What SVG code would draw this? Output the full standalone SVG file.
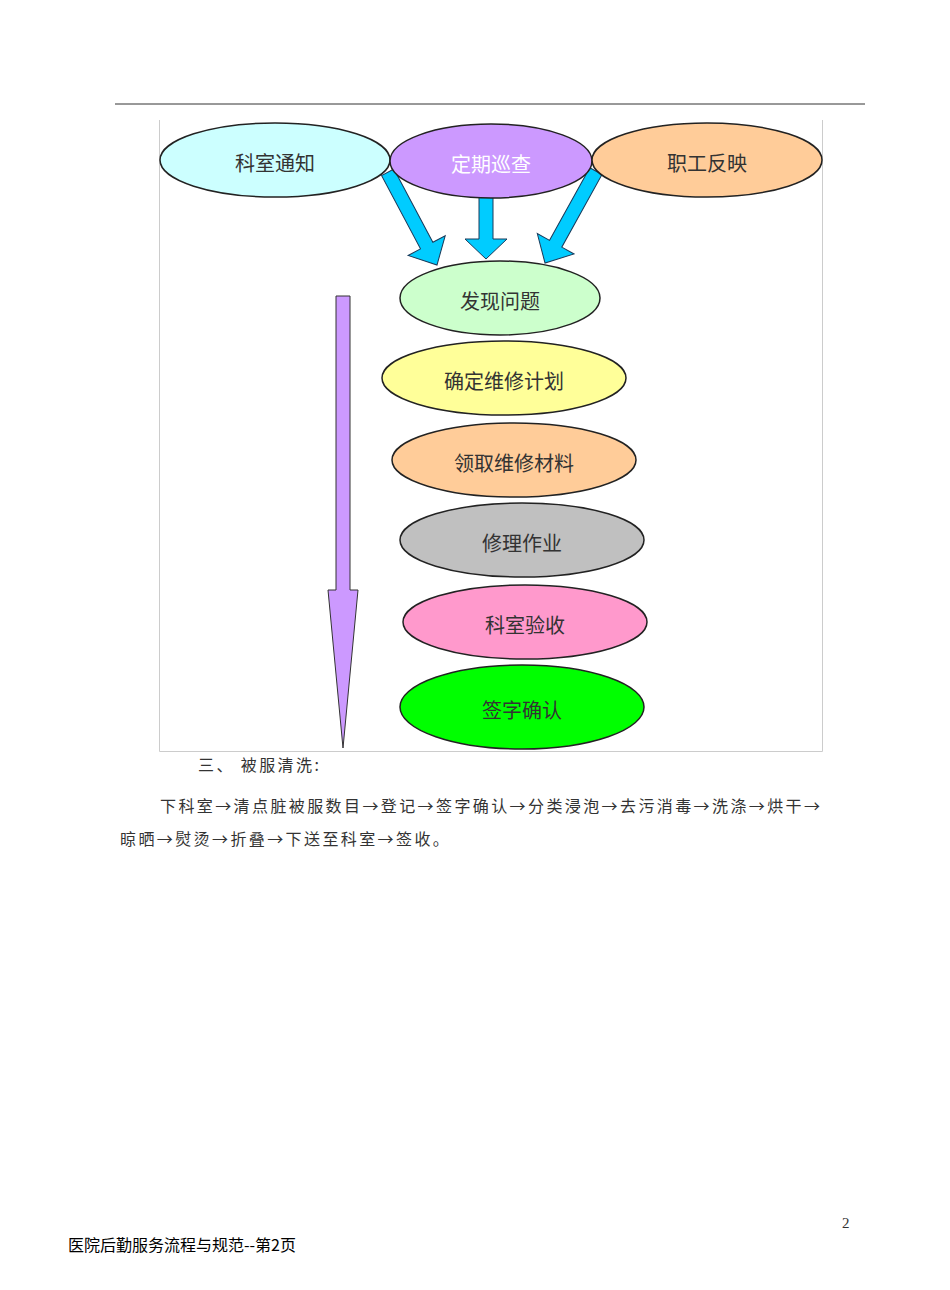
<svg xmlns="http://www.w3.org/2000/svg" width="950" height="1290" viewBox="0 0 950 1290">
<style>
.n{stroke:#222;stroke-width:1.5}
.t{font-family:"Noto Sans CJK SC",sans-serif;font-size:20px;fill:#333;text-anchor:middle;dominant-baseline:central}
.a{fill:#00ccff;stroke:#1a3a5a;stroke-width:1}
.b{font-family:"Noto Sans CJK SC",sans-serif;font-size:16px;fill:#333;letter-spacing:2.4px}
</style>
<rect width="950" height="1290" fill="#fff"/>
<line x1="115" y1="104" x2="865" y2="104" stroke="#333" stroke-width="1"/>
<path d="M159.5 120V751.5H822.5V120" fill="none" stroke="#ccc"/>
<g id="connectors">
<path class="a" transform="translate(437,265) rotate(-28)" d="M-7,-105L7,-105L7,-22L21,-22L0,0L-21,-22L-7,-22Z"/>
<path class="a" transform="translate(486,259)" d="M-7,-62L7,-62L7,-20L21,-20L0,0L-21,-20L-7,-20Z"/>
<path class="a" transform="translate(545,263) rotate(29)" d="M-7,-105L7,-105L7,-22L21,-22L0,0L-21,-22L-7,-22Z"/>
<path fill="#cc99ff" stroke="#333" d="M336,296H350V590H358L343,748L328,590H336Z"/>
</g>
<g id="n1"><ellipse class="n" cx="275" cy="160" rx="115" ry="37" fill="#ccffff"/><text class="t" x="275" y="162">科室通知</text></g>
<g id="n2"><ellipse class="n" cx="491" cy="161" rx="101" ry="37" fill="#cc99ff"/><text class="t" x="491" y="163" style="fill:#fff">定期巡查</text></g>
<g id="n3"><ellipse class="n" cx="707" cy="160" rx="115" ry="37" fill="#ffcc99"/><text class="t" x="707" y="162">职工反映</text></g>
<g id="n4"><ellipse class="n" cx="500" cy="298" rx="100" ry="37" fill="#ccffcc"/><text class="t" x="500" y="300">发现问题</text></g>
<g id="n5"><ellipse class="n" cx="504" cy="378" rx="122" ry="37" fill="#ffff99"/><text class="t" x="504" y="380">确定维修计划</text></g>
<g id="n6"><ellipse class="n" cx="514" cy="460" rx="122" ry="37" fill="#ffcc99"/><text class="t" x="514" y="462">领取维修材料</text></g>
<g id="n7"><ellipse class="n" cx="522" cy="540" rx="122" ry="37" fill="#c0c0c0"/><text class="t" x="522" y="542">修理作业</text></g>
<g id="n8"><ellipse class="n" cx="525" cy="622" rx="122" ry="37" fill="#ff99cc"/><text class="t" x="525" y="624">科室验收</text></g>
<g id="n9"><ellipse class="n" cx="522" cy="707" rx="122" ry="42" fill="#00ff00"/><text class="t" x="522" y="709">签字确认</text></g>
<text class="b" x="198" y="771">三、  被服清洗:</text>
<text class="b" x="160" y="812">下科室→清点脏被服数目→登记→签字确认→分类浸泡→去污消毒→洗涤→烘干→</text>
<text class="b" x="120" y="845">晾晒→熨烫→折叠→下送至科室→签收。</text>
<text x="842" y="1228" style="font-family:'Liberation Serif',serif;font-size:15px;fill:#333">2</text>
<text x="68" y="1251" style="font-family:'Noto Sans CJK SC',sans-serif;font-size:16px;fill:#000">医院后勤服务流程与规范--第2页</text>
</svg>
